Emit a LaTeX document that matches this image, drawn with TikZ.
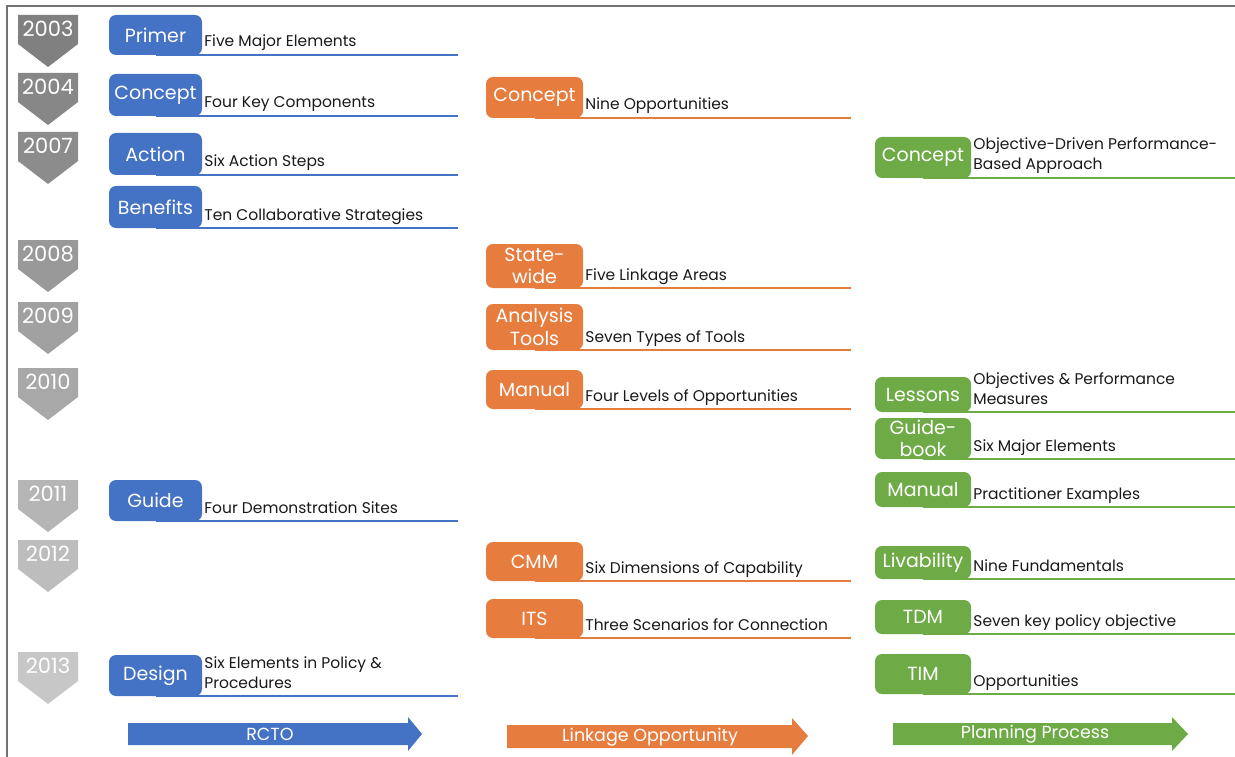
\documentclass[tikz,border=0pt]{standalone}
\usepackage{fontspec}
\setmainfont{Poppins}
\usetikzlibrary{positioning}
\definecolor{rctoblue}{HTML}{4472C4}
\definecolor{linkorange}{HTML}{E67D3F}
\definecolor{plangreen}{HTML}{6EAB46}
\begin{document}
\begin{tikzpicture}[x=1pt,y=-1pt,
    tab/.style = {rounded corners=7pt, inner sep=0pt, text=white, align=center,
                  font=\fontsize{19}{22.5}\selectfont},
    bluetab/.style = {tab, fill=rctoblue, minimum width=93pt},
    orangetab/.style = {tab, fill=linkorange, minimum width=97pt},
    greentab/.style = {tab, fill=plangreen, minimum width=96pt},
    desc/.style = {anchor=south west, text depth=0pt, inner xsep=2pt, inner ysep=8pt,
                   align=left, text=black!90, font=\fontsize{15.5}{20}\selectfont},
    bluerule/.style = {draw=rctoblue, line width=2.5pt},
    orangerule/.style = {draw=linkorange, line width=2.5pt},
    greenrule/.style = {draw=plangreen, line width=2.5pt},
    year/.style = {text=white, font=\fontsize{21}{21}\selectfont},
    arrowtext/.style = {text=white, font=\fontsize{17.5}{17.5}\selectfont}
  ]
  \useasboundingbox (0,0) rectangle (1235,757);
  \draw[black!55, line width=2pt] (7,757) -- (7,6) -- (1235,6);

  % years
  \foreach \yr/\t/\g in {2003/15/50, 2004/73/47, 2007/132/45, 2008/240/40,
                         2009/302/37, 2010/368/34, 2011/480/29, 2012/540/26, 2013/652/22}
  {
    \fill[black!\g] (18,\t) -- (78,\t) -- (78,\t+29) -- (48,\t+52) -- (18,\t+29) -- cycle;
    \node[year] (y\yr) at (48,\t+14) {\yr};
  }

  \coordinate (blueend) at (458,0);
  \coordinate (orangeend) at (851,0);
  \coordinate (greenend) at (1235,0);

  % RCTO column
  \node[bluetab, minimum height=40pt] (primer) at (155.5,35) {Primer};
  \node[bluetab, minimum height=42pt] (bconcept) at (155.5,95) {Concept};
  \node[bluetab, minimum height=42pt] (action) at (155.5,154) {Action};
  \node[bluetab, minimum height=42pt] (benefits) at (155.5,207) {Benefits};
  \node[bluetab, minimum height=41pt] (guide) at (155.5,500.5) {Guide};
  \node[bluetab, minimum height=41pt] (design) at (155.5,675.5) {Design};
  \foreach \n in {primer, bconcept, action, benefits, guide, design}
    \draw[bluerule] (\n.south) -- (\n.south -| blueend);
  \node[desc] (primertxt) at (primer.south east) {Five Major Elements};
  \node[desc] (bconcepttxt) at (bconcept.south east) {Four Key Components};
  \node[desc] (actiontxt) at (action.south east) {Six Action Steps};
  \node[desc] (benefitstxt) at (benefits.south east) {Ten Collaborative Strategies};
  \node[desc] (guidetxt) at (guide.south east) {Four Demonstration Sites};
  \node[desc] (designtxt) at (design.south east) {Six Elements in Policy \&\\Procedures};

  % Linkage column
  \node[orangetab, minimum height=41pt] (oconcept) at (534.5,97.5) {Concept};
  \node[orangetab, minimum height=44pt] (statewide) at (534.5,266) {State-\\wide};
  \node[orangetab, minimum height=46pt] (analysis) at (534.5,327) {Analysis\\Tools};
  \node[orangetab, minimum height=39pt] (omanual) at (534.5,389.5) {Manual};
  \node[orangetab, minimum height=39pt] (cmm) at (534.5,561.5) {CMM};
  \node[orangetab, minimum height=39pt] (its) at (534.5,618.5) {ITS};
  \foreach \n in {oconcept, statewide, analysis, omanual, cmm, its}
    \draw[orangerule] (\n.south) -- (\n.south -| orangeend);
  \node[desc] (oconcepttxt) at (oconcept.south east) {Nine Opportunities};
  \node[desc] (statewidetxt) at (statewide.south east) {Five Linkage Areas};
  \node[desc] (analysistxt) at (analysis.south east) {Seven Types of Tools};
  \node[desc] (omanualtxt) at (omanual.south east) {Four Levels of Opportunities};
  \node[desc] (cmmtxt) at (cmm.south east) {Six Dimensions of Capability};
  \node[desc] (itstxt) at (its.south east) {Three Scenarios for Connection};

  % Planning column
  \node[greentab, minimum height=41pt] (gconcept) at (923,157.5) {Concept};
  \node[greentab, minimum height=35pt] (lessons) at (923,394.5) {Lessons};
  \node[greentab, minimum height=41pt] (guidebook) at (923,438.5) {Guide-\\book};
  \node[greentab, minimum height=35pt] (gmanual) at (923,489.5) {Manual};
  \node[greentab, minimum height=33pt] (livability) at (923,562.5) {Livability};
  \node[greentab, minimum height=34pt] (tdm) at (923,617) {TDM};
  \node[greentab, minimum height=40pt] (tim) at (923,674) {TIM};
  \foreach \n in {gconcept, lessons, guidebook, gmanual, livability, tdm, tim}
    \draw[greenrule] (\n.south) -- (\n.south -| greenend);
  \node[desc] (gconcepttxt) at (gconcept.south east) {Objective-Driven Performance-\\Based Approach};
  \node[desc] (lessonstxt) at (lessons.south east) {Objectives \& Performance\\Measures};
  \node[desc] (guidebooktxt) at (guidebook.south east) {Six Major Elements};
  \node[desc] (gmanualtxt) at (gmanual.south east) {Practitioner Examples};
  \node[desc] (livabilitytxt) at (livability.south east) {Nine Fundamentals};
  \node[desc] (tdmtxt) at (tdm.south east) {Seven key policy objective};
  \node[desc] (timtxt) at (tim.south east) {Opportunities};

  % bottom arrows
  \fill[rctoblue] (128,723) -- (408,723) -- (408,717) -- (422,734) -- (408,751)
    -- (408,745) -- (128,745) -- cycle;
  \node[arrowtext] (rcto) at (270,734) {RCTO};
  \fill[linkorange] (507,725) -- (792,725) -- (792,718) -- (808,736) -- (792,755)
    -- (792,748) -- (507,748) -- cycle;
  \node[arrowtext] (linkage) at (650,737) {Linkage Opportunity};
  \fill[plangreen] (893,723) -- (1172,723) -- (1172,717) -- (1188,734) -- (1172,751)
    -- (1172,745) -- (893,745) -- cycle;
  \node[arrowtext] (planning) at (1035,734) {Planning Process};
\end{tikzpicture}
\end{document}
